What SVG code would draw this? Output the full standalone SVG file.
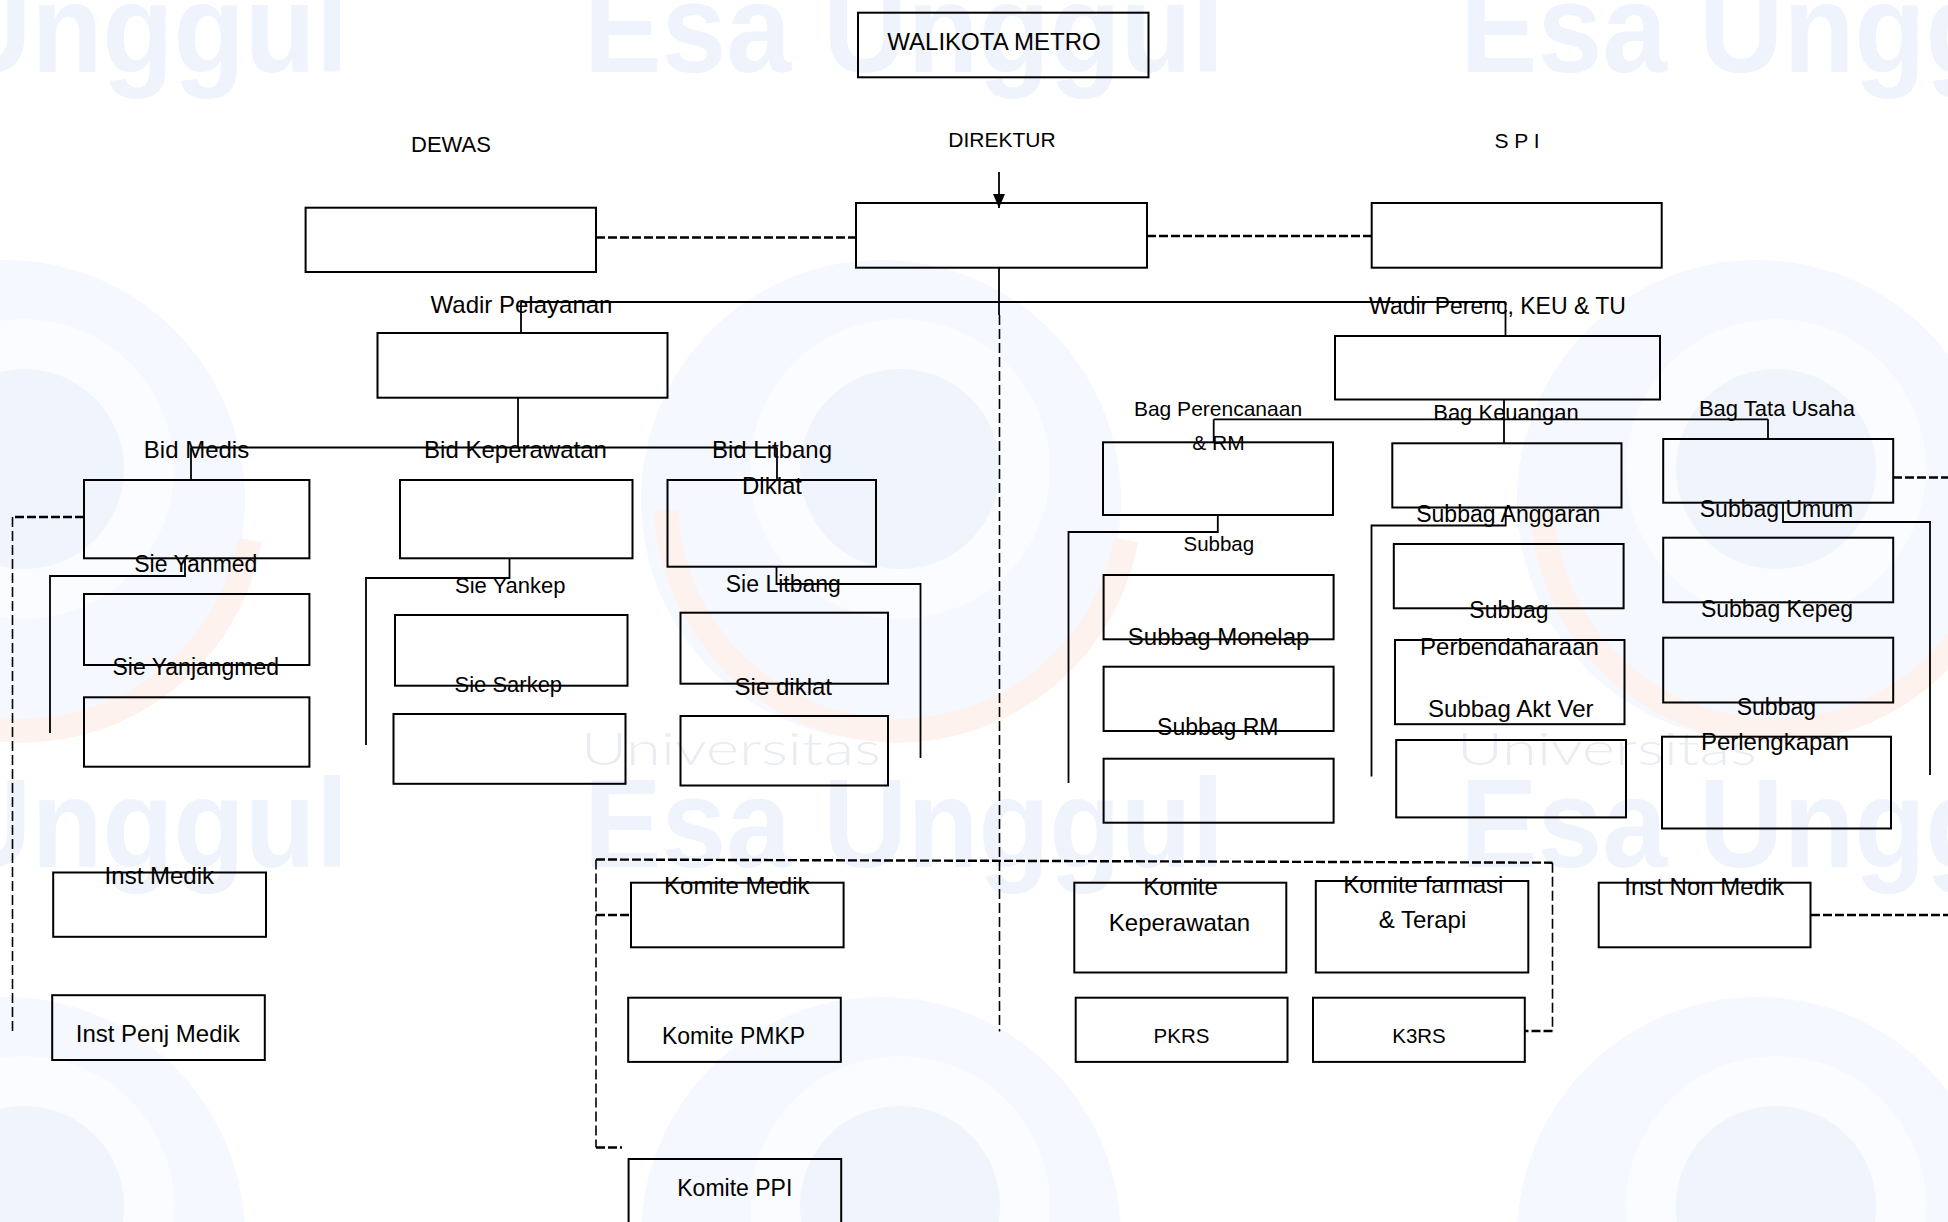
<svg xmlns="http://www.w3.org/2000/svg" xmlns:xlink="http://www.w3.org/1999/xlink" width="1948" height="1222" viewBox="0 0 1948 1222">
<style>
.bx{fill:none;stroke:#000;stroke-width:2}
.ln{fill:none;stroke:#000;stroke-width:1.8}
.dh{fill:none;stroke:#000;stroke-width:2.4;stroke-dasharray:9 3}
.dv{fill:none;stroke:#000;stroke-width:1.6;stroke-dasharray:10 4}
text{font-family:"Liberation Sans",Arial,sans-serif;fill:#000;text-anchor:middle}
.t24{font-size:24px}.t23{font-size:23px}.t22{font-size:22px}.t21{font-size:21px}.t20{font-size:20.5px}
.wm{font-family:"Liberation Sans",sans-serif;font-weight:bold;font-size:126px;fill:#eef3fc;text-anchor:start}
.wu{font-family:Lato,"Liberation Sans",sans-serif;font-weight:300;font-size:45px;fill:#e9edf3;text-anchor:start}
</style>
<defs>
<marker id="arr" viewBox="0 0 14 12" refX="14" refY="6" markerWidth="14" markerHeight="12" markerUnits="userSpaceOnUse" orient="auto">
<path d="M0,0 L14,6 L0,12 z" fill="#000"/>
</marker>
<g id="logo">
<circle r="240" fill="#f5f8fe"/>
<circle cx="19" cy="-31" r="150" fill="#fbfcff"/>
<circle cx="19" cy="-31" r="100" fill="#f0f4fc"/>
<path d="M-215,10 A232,232 0 0 0 245,40" fill="none" stroke="#fdf2ed" stroke-width="24"/>
</g>
</defs>
<rect width="1948" height="1222" fill="#fff"/>
<g id="watermark">
<use xlink:href="#logo" x="5" y="500"/>
<use xlink:href="#logo" x="881" y="500"/>
<use xlink:href="#logo" x="1757" y="500"/>
<use xlink:href="#logo" x="5" y="1237"/>
<use xlink:href="#logo" x="881" y="1237"/>
<use xlink:href="#logo" x="1757" y="1237"/>
<text class="wm" x="-292" y="72" textLength="640" lengthAdjust="spacingAndGlyphs">Esa Unggul</text>
<text class="wm" x="584" y="72" textLength="640" lengthAdjust="spacingAndGlyphs">Esa Unggul</text>
<text class="wm" x="1460" y="72" textLength="640" lengthAdjust="spacingAndGlyphs">Esa Unggul</text>
<text class="wm" x="-292" y="867" textLength="640" lengthAdjust="spacingAndGlyphs">Esa Unggul</text>
<text class="wm" x="584" y="867" textLength="640" lengthAdjust="spacingAndGlyphs">Esa Unggul</text>
<text class="wm" x="1460" y="867" textLength="640" lengthAdjust="spacingAndGlyphs">Esa Unggul</text>
<text class="wu" x="581" y="765" textLength="300" lengthAdjust="spacingAndGlyphs">Universitas</text>
<text class="wu" x="1457" y="765" textLength="300" lengthAdjust="spacingAndGlyphs">Universitas</text>
</g>
<g id="connectors">
<path class="ln" d="M999,268 V315"/>
<path class="ln" d="M521,302 H1505.5"/>
<path class="ln" d="M521,302 V333"/>
<path class="ln" d="M1505.5,302 V336"/>
<path class="ln" d="M518,398 V447.5"/>
<path class="ln" d="M191,447.5 H777"/>
<path class="ln" d="M191,447.5 V480"/>
<path class="ln" d="M777,447.5 V480"/>
<path class="ln" d="M1504,400 V443"/>
<path class="ln" d="M1213.7,419.3 H1768"/>
<path class="ln" d="M1213.7,419.3 V442"/>
<path class="ln" d="M1768,419.3 V439"/>
<path class="ln" d="M185,558 V576 H50 V733"/>
<path class="ln" d="M509.5,558 V578 H366 V745"/>
<path class="ln" d="M776.5,566.7 V584 H920.5 V758"/>
<path class="ln" d="M1217.8,515 V532 H1068.5 V783"/>
<path class="ln" d="M1505.7,507.7 V525.5 H1371.5 V776.5"/>
<path class="ln" d="M1783,502.7 V522 H1930 V775"/>
<path class="ln" d="M999,172 V208" marker-end="url(#arr)"/>
<path class="dh" d="M596,237.5 H856"/>
<path class="dh" d="M1147,236 H1371.7"/>
<path class="dh" d="M84,517 H12.5"/>
<path class="dh" d="M1893,477.5 H1948"/>
<path class="dh" d="M1811,915 H1948"/>
<path class="dh" d="M596,859.5 L1552.5,862.7"/>
<path class="dh" d="M596,915 H631"/>
<path class="dh" d="M596,1147.5 H622"/>
<path class="dh" d="M1552.5,1031 H1525"/>
<path class="dv" d="M12.5,517 V1031.5"/>
<path class="dv" d="M999.5,315 V1031.5"/>
<path class="dv" d="M596,859.5 V1147.5"/>
<path class="dv" d="M1552.5,862.7 V1031"/>
</g>
<g id="walikota"><rect class="bx" x="858" y="12.7" width="290.5" height="64.6"/><text class="t24" x="994" y="50">WALIKOTA METRO</text></g>
<g id="dewas"><text class="t22" x="451" y="152">DEWAS</text><rect class="bx" x="305.6" y="207.7" width="290.4" height="64.3"/></g>
<g id="direktur"><text class="t21" x="1002" y="147">DIREKTUR</text><rect class="bx" x="856" y="203" width="291" height="64.7"/></g>
<g id="spi"><text class="t21" x="1517" y="147.5">S P I</text><rect class="bx" x="1371.7" y="203" width="290" height="64.7"/></g>
<g id="wadir-pelayanan"><text class="t24" x="521.5" y="313">Wadir Pelayanan</text><rect class="bx" x="377.5" y="333" width="290" height="64.7"/></g>
<g id="wadir-perenc"><text class="t23" x="1497.5" y="314">Wadir Perenc, KEU &amp; TU</text><rect class="bx" x="1335" y="336" width="325" height="63.5"/></g>
<g id="bid-medis"><text class="t24" x="196.5" y="458">Bid Medis</text><rect class="bx" x="84" y="480" width="225.4" height="78.3"/></g>
<g id="bid-keperawatan"><text class="t24" x="515.5" y="458">Bid Keperawatan</text><rect class="bx" x="400" y="480" width="232.5" height="78.3"/></g>
<g id="bid-litbang"><text class="t24" x="772" y="458">Bid Litbang</text><text class="t24" x="772" y="494">Diklat</text><rect class="bx" x="667.5" y="480" width="208.5" height="86.7"/></g>
<g id="sie-yanmed"><text class="t23" x="195.8" y="572">Sie Yanmed</text><rect class="bx" x="84" y="594" width="225.4" height="71"/></g>
<g id="sie-yanjangmed"><text class="t23" x="195.8" y="675">Sie Yanjangmed</text><rect class="bx" x="84" y="697.3" width="225.4" height="69.4"/></g>
<g id="sie-yankep"><text class="t22" x="510.3" y="593">Sie Yankep</text><rect class="bx" x="395" y="615" width="232.5" height="70.7"/></g>
<g id="sie-sarkep"><text class="t22" x="508.3" y="692">Sie Sarkep</text><rect class="bx" x="393.5" y="714" width="232" height="69.8"/></g>
<g id="sie-litbang"><text class="t23" x="783.3" y="591.5">Sie Litbang</text><rect class="bx" x="680.5" y="612.7" width="207.5" height="71"/></g>
<g id="sie-diklat"><text class="t24" x="783.3" y="695">Sie diklat</text><rect class="bx" x="680.5" y="716" width="207.5" height="69.5"/></g>
<g id="bag-perencanaan"><text class="t21" x="1218" y="416">Bag Perencanaan</text><text class="t21" x="1218.5" y="450">&amp; RM</text><rect class="bx" x="1103" y="442.3" width="230" height="72.7"/></g>
<g id="bag-keuangan"><text class="t22" x="1506" y="420">Bag Keuangan</text><rect class="bx" x="1392.3" y="443.3" width="229.2" height="64.2"/></g>
<g id="bag-tata-usaha"><text class="t22" x="1777" y="416">Bag Tata Usaha</text><rect class="bx" x="1663.2" y="439" width="230" height="63.7"/></g>
<g id="subbag-perenc"><text class="t20" x="1218.8" y="551">Subbag</text><rect class="bx" x="1103.6" y="575" width="230" height="64.3"/></g>
<g id="subbag-monelap"><text class="t24" x="1218.6" y="645">Subbag Monelap</text><rect class="bx" x="1103.6" y="666.7" width="230" height="64.3"/></g>
<g id="subbag-rm"><text class="t23" x="1217.8" y="735">Subbag RM</text><rect class="bx" x="1103.6" y="758.7" width="230" height="64"/></g>
<g id="subbag-anggaran"><text class="t23" x="1508.3" y="522">Subbag Anggaran</text><rect class="bx" x="1393.8" y="544" width="229.8" height="64.3"/></g>
<g id="subbag-perbendaharaan"><text class="t23" x="1509" y="618">Subbag</text><text class="t24" x="1509.5" y="655">Perbendaharaan</text><rect class="bx" x="1395" y="640" width="229.5" height="84.2"/></g>
<g id="subbag-akt-ver"><text class="t24" x="1510.8" y="716.5">Subbag Akt Ver</text><rect class="bx" x="1396.2" y="740" width="229.8" height="77.4"/></g>
<g id="subbag-umum"><text class="t23" x="1776.5" y="516.5">Subbag Umum</text><rect class="bx" x="1663.2" y="537.7" width="230" height="64.6"/></g>
<g id="subbag-kepeg"><text class="t23" x="1777" y="616.5">Subbag Kepeg</text><rect class="bx" x="1663.2" y="637.7" width="230" height="64.8"/></g>
<g id="subbag-perlengkapan"><text class="t23" x="1776.4" y="715">Subbag</text><text class="t24" x="1775" y="750">Perlengkapan</text><rect class="bx" x="1662" y="736.7" width="229" height="91.8"/></g>
<g id="inst-medik"><text class="t24" x="159.3" y="884">Inst Medik</text><rect class="bx" x="53.2" y="872.5" width="212.8" height="64.3"/></g>
<g id="inst-penj-medik"><rect class="bx" x="52.2" y="995.2" width="212.6" height="64.8"/><text class="t24" x="157.8" y="1041.7">Inst Penj Medik</text></g>
<g id="komite-medik"><text class="t24" x="736.8" y="894">Komite Medik</text><rect class="bx" x="631" y="882.7" width="212.6" height="64.6"/></g>
<g id="komite-pmkp"><rect class="bx" x="628.2" y="997.7" width="212.6" height="64.2"/><text class="t23" x="733.5" y="1044">Komite PMKP</text></g>
<g id="komite-ppi"><rect class="bx" x="628.6" y="1159" width="212.6" height="80"/><text class="t23" x="734.8" y="1196">Komite PPI</text></g>
<g id="komite-keperawatan"><rect class="bx" x="1074.3" y="882.7" width="212" height="89.8"/><text class="t24" x="1180.5" y="895">Komite</text><text class="t24" x="1179.5" y="931">Keperawatan</text></g>
<g id="komite-farmasi"><rect class="bx" x="1315.8" y="881" width="212.5" height="91.5"/><text class="t24" x="1423.3" y="892.7">Komite farmasi</text><text class="t24" x="1422.5" y="928">&amp; Terapi</text></g>
<g id="inst-non-medik"><text class="t24" x="1704.3" y="895">Inst Non Medik</text><rect class="bx" x="1598.7" y="882.7" width="211.8" height="64.6"/></g>
<g id="pkrs"><rect class="bx" x="1075.7" y="997.7" width="211.8" height="64.2"/><text class="t20" x="1181.5" y="1043">PKRS</text></g>
<g id="k3rs"><rect class="bx" x="1313" y="997.7" width="211.8" height="64.2"/><text class="t20" x="1419" y="1043">K3RS</text></g>
</svg>
